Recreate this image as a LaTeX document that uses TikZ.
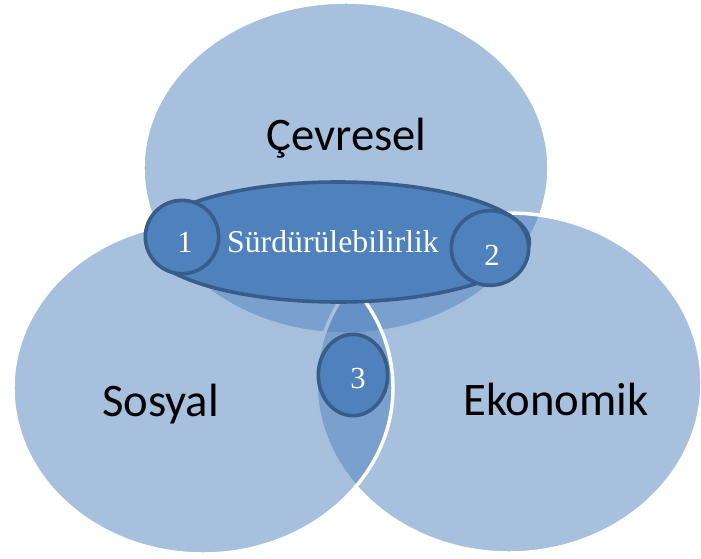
\documentclass[tikz,border=0pt]{standalone}
\usepackage{fontspec}
\setmainfont{Liberation Serif}
\newfontfamily\labelfont{Carlito}
\usetikzlibrary{shapes.geometric}
\definecolor{obase}{HTML}{4F81BD}
\definecolor{oedge}{HTML}{385D8A}
\begin{document}
\begin{tikzpicture}[x=0.75pt,y=-0.75pt,
  venn/.style={ellipse, inner sep=0pt, fill=obase, fill opacity=0.5, draw=white, draw opacity=1, line width=2.6pt},
  core/.style={ellipse, inner sep=0pt, fill=obase, draw=oedge, line width=2.7pt},
  biglabel/.style={font=\labelfont\fontsize{35}{40}\selectfont, text=black, inner sep=0pt, anchor=base},
  corelabel/.style={font=\fontsize{23.8}{28}\selectfont, text=white, inner sep=0pt, anchor=base},
  numlabel/.style={font=\fontsize{23}{27}\selectfont, text=white, inner sep=0pt, anchor=base}]
\useasboundingbox (0,0) rectangle (701,558);
\clip (0,0) rectangle (701,558);
% Venn circles
\node[venn, minimum width=304.5pt, minimum height=249pt] (cevre) at (346,168) {};
\node[venn, minimum width=289.5pt, minimum height=255pt] (ekon) at (509,383) {};
\node[venn, minimum width=285pt, minimum height=249pt] (sosyal) at (203,388) {};
% central ellipse and small circles
\node[core, minimum width=287pt, minimum height=90pt] (surd) at (338,242) {};
\node[core, minimum width=55pt, minimum height=55pt] (c1) at (182,237) {};
\node[core, minimum width=58pt, minimum height=56pt] (c2) at (490,248) {};
\node[core, minimum width=52pt, minimum height=61pt] (c3) at (353,375) {};
% labels
\node[biglabel] (tcevre) at (346.5,150) {Çevresel};
\node[biglabel] (tsosyal) at (160.5,416) {Sosyal};
\node[biglabel] (tekon) at (556,415) {Ekonomik};
\node[corelabel] (tsurd) at (333,252) {Sürdürülebilirlik};
\node[numlabel] (t1) at (185,252) {1};
\node[numlabel] (t2) at (492,265) {2};
\node[numlabel] (t3) at (358,388) {3};
\end{tikzpicture}
\end{document}
